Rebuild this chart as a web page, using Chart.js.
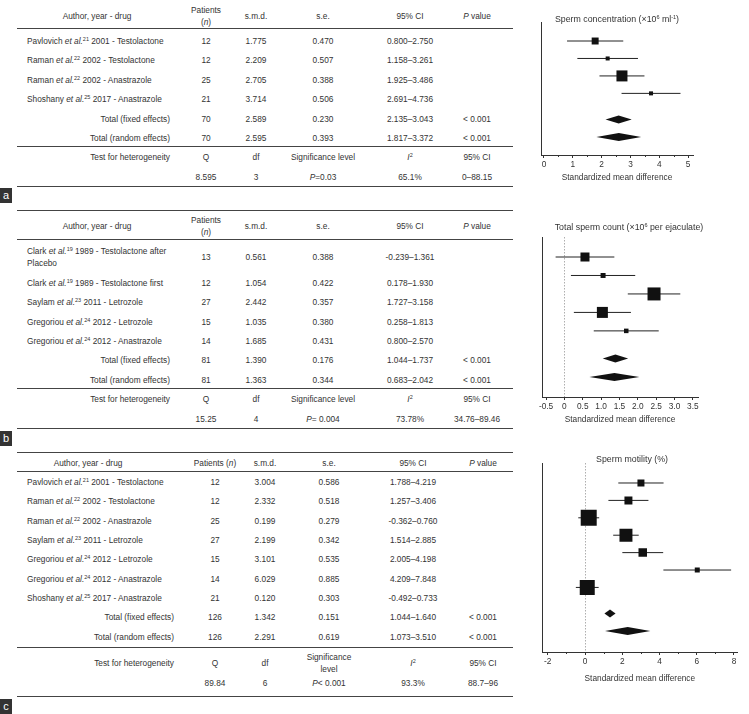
<!DOCTYPE html>
<html>
<head>
<meta charset="utf-8">
<script src="https://cdn.jsdelivr.net/npm/chart.js@4.4.1/dist/chart.umd.min.js"></script>
<style>
  body { margin: 0; width: 749px; height: 714px; position: relative; overflow: hidden; background: #fff;
         font-family: "Liberation Sans", Arial, sans-serif; color: #333; }
  .t { position: absolute; font-size: 8.3px; line-height: 12px; white-space: nowrap; }
  .c { transform: translate(-50%, -50%); text-align: center; }
  .l { transform: translateY(-50%); }
  .r { transform: translate(-100%, -50%); }
  .hr { position: absolute; left: 17px; width: 496px; height: 0; border-top: 1.5px solid #444; }
  .lab { position: absolute; left: 0; width: 12px; height: 15px; background: #333; color: #fff;
         font-size: 11px; line-height: 14px; text-align: center; }
  .ttl { position: absolute; font-size: 8.8px; white-space: nowrap; transform: translate(-50%, -50%); }
  sup { font-size: 5.5px; vertical-align: baseline; position: relative; top: -3px; line-height: 0; }
  canvas { position: absolute; left: 520px; }
</style>
</head>
<body>
<canvas id="chartA" width="229" height="190" style="top:0px"></canvas>
<canvas id="chartB" width="229" height="230" style="top:200px"></canvas>
<canvas id="chartC" width="229" height="260" style="top:440px"></canvas>
<script>
// ---- panel a: sperm concentration ----
const authorA = ['Pavlovich', 'Raman', 'Raman', 'Shoshany'];
const refA = [21, 22, 22, 25];
const yearA = [2001, 2002, 2002, 2017];
const drugA = ['Testolactone', 'Testolactone', 'Anastrazole', 'Anastrazole'];
const nA = [12, 12, 25, 21, 70, 70];
const smdA = [1.775, 2.209, 2.705, 3.714, 2.589, 2.595];
const seA = [0.470, 0.507, 0.388, 0.506, 0.230, 0.393];
const loA = [0.800, 1.158, 1.925, 2.691, 2.135, 1.817];
const hiA = [2.750, 3.261, 3.486, 4.736, 3.043, 3.372];
const weightA = [24, 8, 60, 8];
const hetA = ['8.595', '3', '<i>P</i>=0.03', '65.1%', '0–88.15'];
const ticksA = [0, 1, 2, 3, 4, 5];
const tickLabelsA = ['0', '1', '2', '3', '4', '5'];
const minorA = [0.5, 1.5, 2.5, 3.5, 4.5];

// ---- panel b: total sperm count ----
const authorB = ['Clark', 'Clark', 'Saylam', 'Gregoriou', 'Gregoriou'];
const refB = [19, 19, 23, 24, 24];
const yearB = [1989, 1989, 2011, 2012, 2012];
const drugB = ['Testolactone after<br>Placebo', 'Testolactone first', 'Letrozole', 'Letrozole', 'Anastrazole'];
const nB = [13, 12, 27, 15, 14, 81, 81];
const smdB = [0.561, 1.054, 2.442, 1.035, 1.685, 1.390, 1.363];
const seB = [0.388, 0.422, 0.357, 0.380, 0.431, 0.176, 0.344];
const loB = [-0.239, 0.178, 1.727, 0.258, 0.800, 1.044, 0.683];
const hiB = [1.361, 1.930, 3.158, 1.813, 2.570, 1.737, 2.042];
const weightB = [19.5, 6.0, 40.6, 29.1, 4.9];
const hetB = ['15.25', '4', '<i>P</i>= 0.004', '73.78%', '34.76–89.46'];
const ticksB = [-0.5, 0, 0.5, 1, 1.5, 2, 2.5, 3, 3.5];
const tickLabelsB = ['-0.5', '0', '0.5', '1.0', '1.5', '2.0', '2.5', '3.0', '3.5'];

// ---- panel c: sperm motility ----
const authorC = ['Pavlovich', 'Raman', 'Raman', 'Saylam', 'Gregoriou', 'Gregoriou', 'Shoshany'];
const refC = [21, 22, 22, 23, 24, 24, 25];
const yearC = [2001, 2002, 2002, 2011, 2012, 2012, 2017];
const drugC = ['Testolactone', 'Testolactone', 'Anastrazole', 'Letrozole', 'Letrozole', 'Anastrazole', 'Anastrazole'];
const nC = [12, 12, 25, 27, 15, 14, 21, 126, 126];
const smdC = [3.004, 2.332, 0.199, 2.199, 3.101, 6.029, 0.120, 1.342, 2.291];
const seC = [0.586, 0.518, 0.279, 0.342, 0.535, 0.885, 0.303, 0.151, 0.619];
const loC = [1.788, 1.257, -0.362, 1.514, 2.005, 4.209, -0.492, 1.044, 1.073];
const hiC = [4.219, 3.406, 0.760, 2.885, 4.198, 7.848, 0.733, 1.640, 3.510];
const weightC = [5.7, 7.4, 29.8, 19.6, 8.4, 2.9, 26.2];
const hetC = ['89.84', '6', '<i>P</i>< 0.001', '93.3%', '88.7–96'];
const ticksC = [-2, 0, 2, 4, 6, 8];
const tickLabelsC = ['-2', '0', '2', '4', '6', '8'];
const minorC = [-1, 1, 3, 5, 7];

const FONT = '"Liberation Sans", Arial, sans-serif';
const INK = '#333';

function put(html, x, y, cls) {
  const d = document.createElement('div');
  d.className = 't ' + cls;
  d.style.left = x + 'px';
  d.style.top = y + 'px';
  d.innerHTML = html;
  document.body.appendChild(d);
  return d;
}
function hline(y) {
  const d = document.createElement('div');
  d.className = 'hr';
  d.style.top = (y - 0.75) + 'px';
  document.body.appendChild(d);
}
function label(ch, y) {
  const d = document.createElement('div');
  d.className = 'lab';
  d.style.top = y + 'px';
  d.textContent = ch;
  document.body.appendChild(d);
}

function buildTable(t) {
  [t.top, t.headLine, t.mid, t.bottom].forEach(hline);
  put('Author, year - drug', t.authorX, t.headY, 'c');
  put(t.patientsHead, t.cols[0], t.headY, 'c');
  put('s.m.d.', t.cols[1], t.headY, 'c');
  put('s.e.', t.cols[2], t.headY, 'c');
  put('95% CI', t.cols[3], t.headY, 'c');
  put('<i>P</i> value', t.cols[4], t.headY, 'c');
  const k = t.author.length;
  t.n.forEach((nv, i) => {
    const y = t.rowY[i];
    if (i < k) {
      put(`${t.author[i]} <i>et al.</i><sup>${t.ref[i]}</sup> ${t.year[i]} - ${t.drug[i]}`, 27, y, 'l');
    } else {
      put(i === k ? 'Total (fixed effects)' : 'Total (random effects)', t.totalX, y, 'r');
      put('&lt; 0.001', t.cols[4], y, 'c');
    }
    put(String(nv), t.cols[0], y, 'c');
    put(t.smd[i].toFixed(3), t.cols[1], y, 'c');
    put(t.se[i].toFixed(3), t.cols[2], y, 'c');
    put(t.lo[i].toFixed(3) + '–' + t.hi[i].toFixed(3), t.cols[3], y, 'c');
  });
  put('Test for heterogeneity', t.totalX, t.hetHead, 'r');
  put('Q', t.cols[0], t.hetHead, 'c');
  put('df', t.cols[1], t.hetHead, 'c');
  put(t.sigHead, t.cols[2], t.hetHead, 'c');
  put('<i>I</i><sup>2</sup>', t.cols[3], t.hetHead, 'c');
  put('95% CI', t.cols[4], t.hetHead, 'c');
  t.het.forEach((v, j) => put(v, t.cols[j], t.hetVal, 'c'));
  label(t.letter, t.labelY);
}

buildTable({
  letter: 'a', top: 0, headY: 16, headLine: 29, mid: 147, hetHead: 157, hetVal: 177, bottom: 187, labelY: 188,
  rowY: nA.map((_, i) => 41 + i * 19.4), authorX: 97, totalX: 170, cols: [206, 256, 323, 410, 477],
  patientsHead: 'Patients<br>(<i>n</i>)', sigHead: 'Significance level',
  author: authorA, ref: refA, year: yearA, drug: drugA, n: nA, smd: smdA, se: seA, lo: loA, hi: hiA, het: hetA
});
buildTable({
  letter: 'b', top: 211, headY: 226, headLine: 240, mid: 389, hetHead: 399, hetVal: 419, bottom: 429, labelY: 431,
  rowY: nB.map((_, i) => i === 0 ? 257 : 283 + (i - 1) * 19.3), authorX: 97, totalX: 170, cols: [206, 256, 323, 410, 477],
  patientsHead: 'Patients<br>(<i>n</i>)', sigHead: 'Significance level',
  author: authorB, ref: refB, year: yearB, drug: drugB, n: nB, smd: smdB, se: seB, lo: loB, hi: hiB, het: hetB
});
buildTable({
  letter: 'c', top: 453, headY: 463, headLine: 472, mid: 648, hetHead: 663, hetVal: 683, bottom: 697, labelY: 699,
  rowY: nC.map((_, i) => 482 + i * 19.35), authorX: 88, totalX: 174, cols: [215, 265, 329, 413, 483],
  patientsHead: 'Patients (<i>n</i>)', sigHead: 'Significance<br>level',
  author: authorC, ref: refC, year: yearC, drug: drugC, n: nC, smd: smdC, se: seC, lo: loC, hi: hiC, het: hetC
});

// chart titles
[['Sperm concentration (×10<sup>6</sup> ml<sup>-1</sup>)', 617, 19],
 ['Total sperm count (×10<sup>6</sup> per ejaculate)', 629, 227],
 ['Sperm motility (%)', 632, 459]].forEach(([txt, x, y]) => {
  const d = document.createElement('div');
  d.className = 'ttl';
  d.style.left = x + 'px';
  d.style.top = y + 'px';
  d.innerHTML = txt;
  document.body.appendChild(d);
});

function forestPlugin(diamonds, zeroLine, minor) {
  return {
    id: 'forest',
    beforeDatasetsDraw(chart) {
      if (!zeroLine) return;
      const { ctx, chartArea, scales: { x } } = chart;
      const px = Math.round(x.getPixelForValue(0)) + 0.5;
      ctx.save();
      ctx.strokeStyle = '#999';
      ctx.lineWidth = 0.8;
      ctx.setLineDash([1.5, 1.5]);
      ctx.beginPath();
      ctx.moveTo(px, chartArea.top);
      ctx.lineTo(px, chartArea.bottom);
      ctx.stroke();
      ctx.restore();
    },
    afterDatasetsDraw(chart) {
      const { ctx, scales: { x, y } } = chart;
      ctx.save();
      ctx.fillStyle = '#111';
      diamonds.forEach(d => {
        const yc = y.getPixelForValue(d.y);
        ctx.beginPath();
        ctx.moveTo(x.getPixelForValue(d.lo), yc);
        ctx.lineTo(x.getPixelForValue(d.est), yc - 4);
        ctx.lineTo(x.getPixelForValue(d.hi), yc);
        ctx.lineTo(x.getPixelForValue(d.est), yc + 4);
        ctx.closePath();
        ctx.fill();
      });
      ctx.restore();
    },
    afterDraw(chart) {
      const { ctx, chartArea, scales: { x } } = chart;
      ctx.save();
      ctx.strokeStyle = INK;
      ctx.lineWidth = 1;
      minor.forEach(v => {
        const px = Math.round(x.getPixelForValue(v)) + 0.5;
        ctx.beginPath();
        ctx.moveTo(px, chartArea.bottom);
        ctx.lineTo(px, chartArea.bottom + 2);
        ctx.stroke();
      });
      ctx.restore();
    }
  };
}

function forest(id, d, s) {
  const k = d.weight.length;
  const yv = d.smd.map((_, i) => i < k ? i + 1 : k + 1.5 + (i - k));
  const side = c => s.boxScale * Math.sqrt(d.weight[c.dataIndex] / 100) / Math.SQRT2;
  const datasets = [{
    data: d.smd.slice(0, k).map((v, i) => ({ x: v, y: yv[i] })),
    pointStyle: 'rect',
    pointRadius: side,
    pointHoverRadius: side,
    backgroundColor: '#111',
    borderWidth: 0
  }];
  for (let i = 0; i < k; i++) {
    datasets.push({
      data: [{ x: d.lo[i], y: yv[i] }, { x: d.hi[i], y: yv[i] }],
      showLine: true, borderColor: '#222', borderWidth: 1, pointRadius: 0, pointHoverRadius: 0
    });
  }
  const diamonds = [k, k + 1].map(i => ({ lo: d.lo[i], est: d.smd[i], hi: d.hi[i], y: yv[i] }));
  new Chart(document.getElementById(id), {
    type: 'scatter',
    data: { datasets },
    plugins: [forestPlugin(diamonds, s.zeroLine, d.minor)],
    options: {
      responsive: false,
      animation: false,
      devicePixelRatio: 1,
      layout: { padding: s.pad },
      plugins: { legend: { display: false }, tooltip: { enabled: false } },
      scales: {
        x: {
          type: 'linear', min: s.xmin, max: s.xmax,
          afterBuildTicks: sc => { sc.ticks = d.ticks.map(v => ({ value: v })); },
          afterFit: sc => { sc.height = s.axisH; },
          grid: { drawOnChartArea: false, drawTicks: true, tickLength: 3, tickColor: INK },
          border: { color: INK, width: 1 },
          ticks: {
            autoSkip: false, maxRotation: 0, padding: 2, color: INK,
            font: { family: FONT, size: 8.3 },
            callback: (v, i) => d.tickLabels[i]
          },
          title: {
            display: true, text: 'Standardized mean difference', color: INK,
            font: { family: FONT, size: 8.3, lineHeight: 1.2 },
            padding: { top: 0, bottom: s.xtPad }
          }
        },
        y: {
          type: 'linear', reverse: true, min: s.ymin, max: s.ymax,
          afterFit: sc => { sc.width = 0; },
          ticks: { display: false },
          grid: { drawOnChartArea: false, drawTicks: false },
          border: { color: INK, width: 1 }
        }
      }
    }
  });
}

forest('chartA',
  { smd: smdA, lo: loA, hi: hiA, weight: weightA, ticks: ticksA, tickLabels: tickLabelsA, minor: minorA },
  { boxScale: 14.2, zeroLine: false, pad: { left: 21, right: 56, top: 22, bottom: 0 },
    axisH: 35, xtPad: 7, xmin: -0.104, xmax: 5.17, ymin: -0.089, ymax: 7.53 });
forest('chartB',
  { smd: smdB, lo: loB, hi: hiB, weight: weightB, ticks: ticksB, tickLabels: tickLabelsB, minor: [] },
  { boxScale: 20.4, zeroLine: true, pad: { left: 22, right: 51, top: 37, bottom: 0 },
    axisH: 33, xtPad: 5, xmin: -0.61, xmax: 3.64, ymin: -0.083, ymax: 8.58 });
forest('chartC',
  { smd: smdC, lo: loC, hi: hiC, weight: weightC, ticks: ticksC, tickLabels: tickLabelsC, minor: minorC },
  { boxScale: 29.3, zeroLine: true, pad: { left: 22, right: 1, top: 23, bottom: 0 },
    axisH: 48, xtPad: 16, xmin: -2.31, xmax: 8.2, ymin: -0.149, ymax: 10.71 });
</script>
</body>
</html>
